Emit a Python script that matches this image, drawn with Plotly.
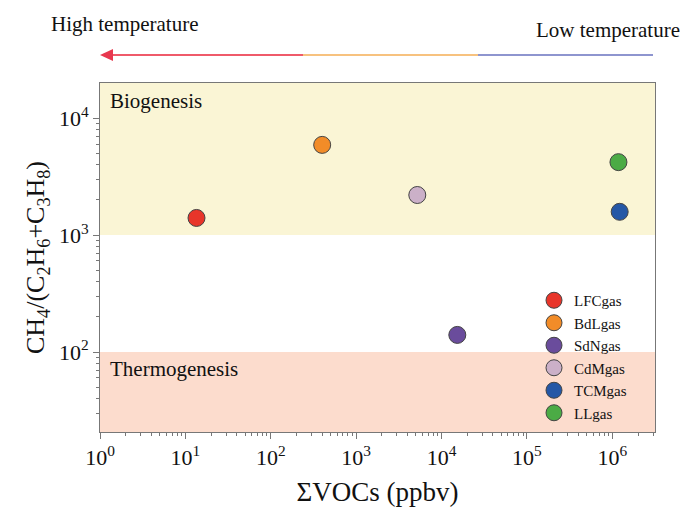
import plotly.graph_objects as go

names = ["LFCgas", "BdLgas", "SdNgas", "CdMgas", "TCMgas", "LLgas"]
vocs = [13.5, 400, 15300, 5200, 1.22e6, 1.18e6]
ratio = [1400, 5900, 140, 2200, 1580, 4200]
colors = ["#e8352a", "#f28c28", "#6a4c9c", "#cbb0c8", "#2457a6", "#4bab45"]

xtickvals = [1, 10, 100, 1e3, 1e4, 1e5, 1e6]
xticktext = ["10<sup>%d</sup>" % i for i in range(7)]
ytickvals = [100, 1e3, 1e4]
yticktext = ["10<sup>2</sup>", "10<sup>3</sup>", "10<sup>4</sup>"]

FONT = "Liberation Serif"
L, R, T, B = 100, 32, 83, 80
W, H = 687, 512
pw, ph = W - L - R, H - T - B

def px(x):
    return (x - L) / pw

def py(y):
    return (H - B - y) / ph

fig = go.Figure()
for n, x, y, c in zip(names, vocs, ratio, colors):
    fig.add_trace(go.Scatter(
        x=[x], y=[y], mode="markers", name=n,
        marker=dict(size=17, color=c, line=dict(color="#444", width=1)),
    ))

shapes = [
    dict(type="rect", xref="x domain", yref="y", x0=0, x1=1, y0=1000, y1=2e4,
         fillcolor="#faf5d5", line=dict(width=0), layer="below"),
    dict(type="rect", xref="x domain", yref="y", x0=0, x1=1, y0=10, y1=100,
         fillcolor="#fcdccd", line=dict(width=0), layer="below"),
    dict(type="line", xref="paper", yref="paper", x0=px(108), x1=px(303), y0=py(55), y1=py(55),
         line=dict(color="#ef5a6a", width=2)),
    dict(type="line", xref="paper", yref="paper", x0=px(303), x1=px(478), y0=py(55), y1=py(55),
         line=dict(color="#f7c27f", width=2)),
    dict(type="line", xref="paper", yref="paper", x0=px(478), x1=px(653), y0=py(55), y1=py(55),
         line=dict(color="#8e95cf", width=2)),
    dict(type="path", xref="paper", yref="paper",
         path="M %f,%f L %f,%f L %f,%f Z" % (px(100), py(55), px(113), py(49), px(113), py(61)),
         fillcolor="#e8384f", line=dict(width=0)),
]

annotations = [
    dict(text="High temperature", xref="paper", yref="paper", x=px(125), y=py(24),
         xanchor="center", yanchor="middle",
         showarrow=False, font=dict(family=FONT, size=21, color="#111")),
    dict(text="Low temperature", xref="paper", yref="paper", x=px(608), y=py(30),
         xanchor="center", yanchor="middle",
         showarrow=False, font=dict(family=FONT, size=21, color="#111")),
    dict(text="Biogenesis", xref="paper", yref="paper", x=px(108), y=py(101), xanchor="left",
         yanchor="middle", showarrow=False, font=dict(family=FONT, size=21, color="#111")),
    dict(text="Thermogenesis", xref="paper", yref="paper", x=px(108), y=py(369), xanchor="left",
         yanchor="middle", showarrow=False, font=dict(family=FONT, size=21, color="#111")),
]

axis_common = dict(
    type="log", showgrid=False, zeroline=False, showline=True, linecolor="#777", linewidth=1,
    mirror=True, ticks="outside", ticklen=6, tickcolor="#777",
    tickfont=dict(family=FONT, size=22, color="#111"),
    minor=dict(ticks="outside", ticklen=3, tickcolor="#777", dtick="D1", showgrid=False),
)

fig.update_layout(
    width=W, height=H, margin=dict(l=L, r=R, t=T, b=B),
    paper_bgcolor="white", plot_bgcolor="white",
    shapes=shapes, annotations=annotations,
    xaxis=dict(axis_common, range=[0, 6.5], tickvals=xtickvals, ticktext=xticktext,
               title=dict(text="ΣVOCs (ppbv)", font=dict(family=FONT, size=27, color="#111"), standoff=12)),
    yaxis=dict(axis_common, range=[1.316, 4.3], tickvals=ytickvals, ticktext=yticktext,
               title=dict(text="CH<sub>4</sub>/(C<sub>2</sub>H<sub>6</sub>+C<sub>3</sub>H<sub>8</sub>)",
                          font=dict(family=FONT, size=26, color="#111"), standoff=6)),
    legend=dict(x=px(534), y=py(284), xanchor="left", yanchor="top", bgcolor="rgba(0,0,0,0)",
                font=dict(family=FONT, size=15, color="#111"), tracegroupgap=0, itemwidth=30),
    showlegend=True,
)

fig.write_html("out.html")
